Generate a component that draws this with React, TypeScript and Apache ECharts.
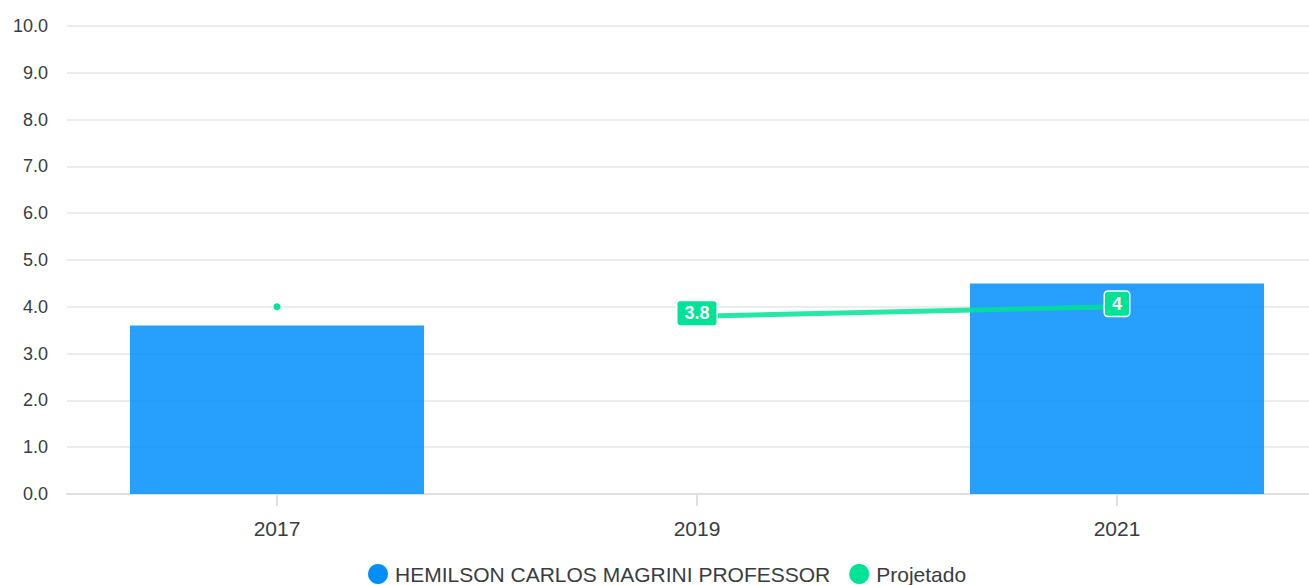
import React, { useEffect, useRef } from "react";
import * as echarts from "echarts";

const categories = ["2017", "2019", "2021"];
const barName = "HEMILSON CARLOS MAGRINI PROFESSOR";
const barValues = [3.6, null, 4.5];
const projName = "Projetado";
const projLineValues = [null, 3.8, 4];
const projDotValues = [4.0, null, null];
const yTicks = { min: 0, max: 10, interval: 1 };

const FONT = 'Helvetica, Arial, "Liberation Sans", sans-serif';
const TEXT = "#373d3f";
const BLUE = "#008FFB";
const GREEN = "#00E396";

export default function App() {
  const ref = useRef<HTMLDivElement>(null);
  useEffect(() => {
    if (!ref.current) return;
    const chart = echarts.init(ref.current, undefined, { renderer: "svg" });
    chart.setOption({
      animation: false,
      textStyle: { fontFamily: FONT },
      grid: {
        left: 67,
        width: 1260,
        top: 26,
        height: 468,
        containLabel: false,
        outerBoundsMode: "none",
      },
      legend: {
        data: [
          { name: barName, icon: "circle", itemStyle: { color: BLUE, opacity: 1 } },
          { name: projName, icon: "circle", itemStyle: { color: GREEN, opacity: 1 } },
        ],
        top: 563,
        left: 368,
        itemWidth: 20,
        itemHeight: 20,
        itemGap: 19,
        padding: 0,
        textStyle: { fontSize: 21, lineHeight: 22, color: TEXT, fontFamily: FONT, padding: [0, 0, 0, 2] },
      },
      xAxis: {
        type: "category",
        data: categories,
        boundaryGap: true,
        axisLine: { show: true, lineStyle: { color: "#e0e0e0", width: 2 } },
        axisTick: { show: true, alignWithLabel: true, length: 12, lineStyle: { color: "#e0e0e0", width: 2 } },
        axisLabel: { fontSize: 21, color: TEXT, margin: 24, fontFamily: FONT },
        splitLine: { show: false },
      },
      yAxis: {
        type: "value",
        min: yTicks.min,
        max: yTicks.max,
        interval: yTicks.interval,
        axisLine: { show: false },
        axisTick: { show: false },
        axisLabel: {
          fontSize: 18,
          color: TEXT,
          margin: 19,
          fontFamily: FONT,
          formatter: (v: number) => v.toFixed(1),
        },
        splitLine: { show: true, lineStyle: { color: "#ececec", width: 2 } },
      },
      series: [
        {
          name: barName,
          type: "bar",
          data: barValues,
          barWidth: "70%",
          itemStyle: { color: BLUE, opacity: 0.85 },
        },
        {
          name: projName,
          type: "line",
          data: projLineValues,
          color: GREEN,
          connectNulls: false,
          lineStyle: { color: GREEN, width: 5, opacity: 0.85 },
          symbol: "circle",
          symbolSize: 1,
          itemStyle: { color: GREEN },
          label: {
            show: true,
            position: "inside",
            offset: [0, -3],
            color: "#fff",
            fontWeight: "bold",
            fontSize: 18,
            fontFamily: FONT,
            backgroundColor: GREEN,
            borderColor: "#fff",
            borderWidth: 1.5,
            borderRadius: 3,
            padding: [3, 7],
          },
          z: 5,
        },
        {
          name: projName,
          type: "line",
          data: projDotValues,
          color: GREEN,
          symbol: "circle",
          symbolSize: 7,
          itemStyle: { color: GREEN },
          lineStyle: { width: 0 },
          label: { show: false },
          z: 5,
        },
      ],
    });
    return () => chart.dispose();
  }, []);
  return (
    <div
      ref={ref}
      style={{ position: "fixed", left: 0, top: 0, width: 1309, height: 585, background: "#fff" }}
    />
  );
}
